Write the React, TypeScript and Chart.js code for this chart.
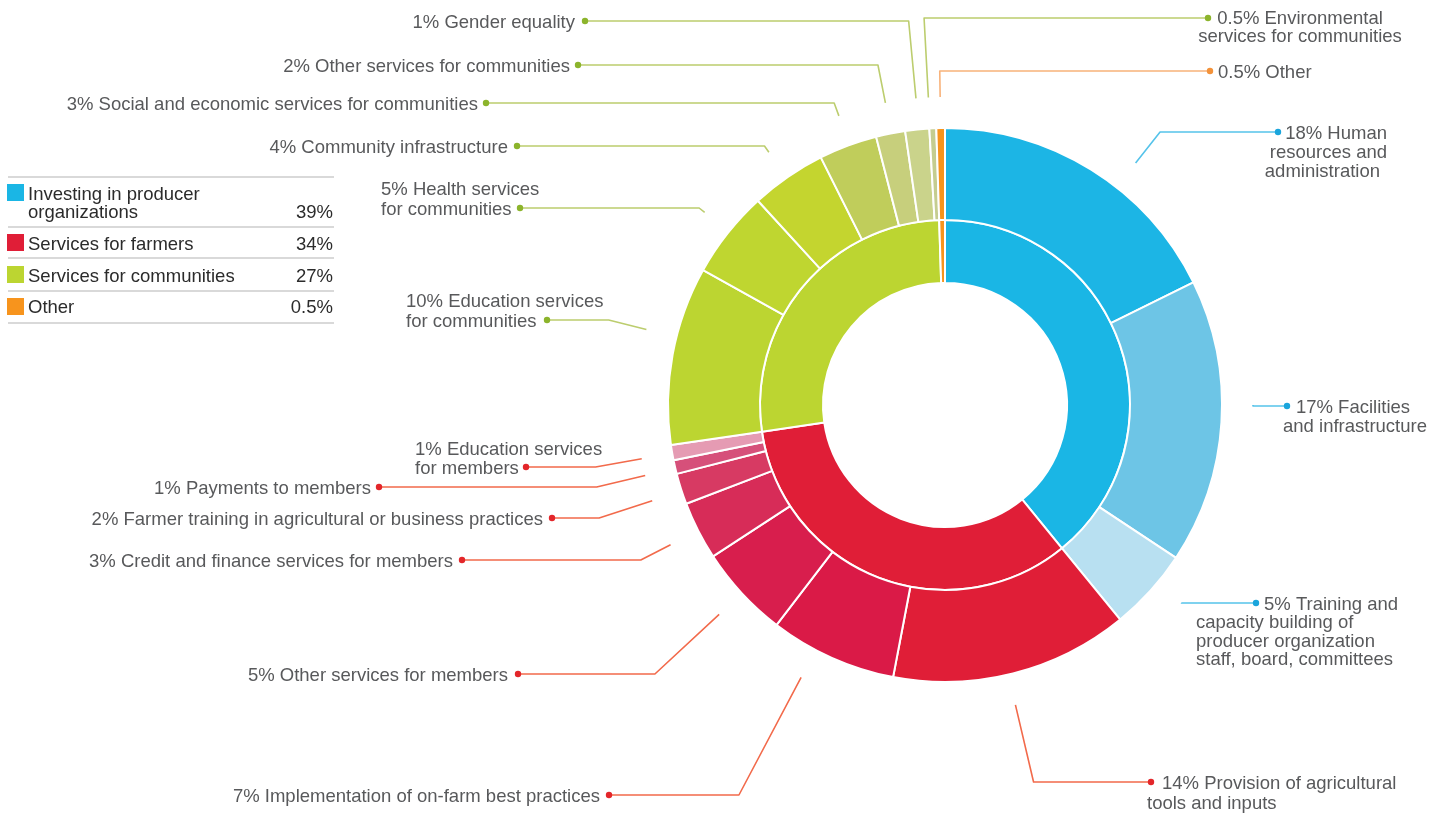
import React, { useEffect, useRef } from 'react';
import { Chart, registerables } from 'chart.js';

Chart.register(...registerables);

// ---- Inner ring: main categories ----
const categoryNames = [
  ['Investing in producer', 'organizations'],
  ['Services for farmers'],
  ['Services for communities'],
  ['Other'],
];
const categoryShares = [39.1, 33.6, 26.8, 0.5];
const categoryPercentText = ['39%', '34%', '27%', '0.5%'];
const categoryColors = ['#1ab6e5', '#e01e37', '#bcd531', '#f7941d'];

// ---- Outer ring: sub-categories (clockwise from 12 o'clock) ----
const itemLines = [
  ['18% Human', 'resources and', 'administration'],
  ['17% Facilities', 'and infrastructure'],
  ['5% Training and', 'capacity building of', 'producer organization', 'staff, board, committees'],
  ['14% Provision of agricultural', 'tools and inputs'],
  ['7% Implementation of on-farm best practices'],
  ['5% Other services for members'],
  ['3% Credit and finance services for members'],
  ['2% Farmer training in agricultural or business practices'],
  ['1% Payments to members'],
  ['1% Education services', 'for members'],
  ['10% Education services', 'for communities'],
  ['5% Health services', 'for communities'],
  ['4% Community infrastructure'],
  ['3% Social and economic services for communities'],
  ['2% Other services for communities'],
  ['1% Gender equality'],
  ['0.5% Environmental', 'services for communities'],
  ['0.5% Other'],
];
const itemShares = [
  17.7, 16.6, 4.8,
  13.9, 7.4, 5.4, 3.4, 1.8, 0.8, 0.9,
  10.4, 5.1, 4.4, 3.4, 1.7, 1.4, 0.4,
  0.5,
];
const itemGroup = [0, 0, 0, 1, 1, 1, 1, 1, 1, 1, 2, 2, 2, 2, 2, 2, 2, 3];
const itemColors = [
  '#1cb5e5', '#6dc5e6', '#b8e0f1',
  '#e01e37', '#da1a47', '#d81e4d', '#d72c58', '#d73a63', '#d6507a', '#e59bb3',
  '#bcd531', '#bfd630', '#c4d52f', '#c0cd5b', '#c7cf7c', '#cad38b', '#c5cd90',
  '#f7941d',
];

// ---- Styles / layout (not data) ----
const leaderColors = ['#55c3ea', '#f26a4b', '#bccd6e', '#f8b27a'];
const dotColors = ['#1aa5dc', '#e3262a', '#8cb42c', '#f3923a'];
const TEXT_COLOR = '#58595b';
const FONT = '18.5px "Liberation Sans", Arial, sans-serif';

type Anchor = [number, number, CanvasTextAlign];
const labelLayout: { frac: number; dot: [number, number]; anchors: Anchor[] }[] = [
  { frac: 0.6, dot: [1278, 132], anchors: [[1387, 132, 'right'], [1387, 151, 'right'], [1380, 170, 'right']] },
  { frac: 0.44, dot: [1287, 406], anchors: [[1353, 406, 'center'], [1355, 425, 'center']] },
  { frac: 0.375, dot: [1256, 603], anchors: [[1264, 603, 'left'], [1196, 621, 'left'], [1196, 640, 'left'], [1196, 658, 'left']] },
  { frac: 0.52, dot: [1151, 782], anchors: [[1162, 782, 'left'], [1147, 802, 'left']] },
  { frac: 0.64, dot: [609, 795], anchors: [[600, 795, 'right']] },
  { frac: 0.5, dot: [518, 674], anchors: [[508, 674, 'right']] },
  { frac: 0.5, dot: [462, 560], anchors: [[453, 560, 'right']] },
  { frac: 0.43, dot: [552, 518], anchors: [[543, 518, 'right']] },
  { frac: 0.4, dot: [379, 487], anchors: [[371, 487, 'right']] },
  { frac: 0.45, dot: [526, 467], anchors: [[415, 448, 'left'], [415, 467, 'left']] },
  { frac: 0.6, dot: [547, 320], anchors: [[406, 300, 'left'], [406, 320, 'left']] },
  { frac: 0.52, dot: [520, 208], anchors: [[381, 188, 'left'], [381, 208, 'left']] },
  { frac: 0.48, dot: [517, 146], anchors: [[508, 146, 'right']] },
  { frac: 0.53, dot: [486, 103], anchors: [[478, 103, 'right']] },
  { frac: 0.53, dot: [578, 65], anchors: [[570, 65, 'right']] },
  { frac: 0.57, dot: [585, 21], anchors: [[575, 21, 'right']] },
  { frac: 0.1, dot: [1208, 18], anchors: [[1300, 17, 'center'], [1300, 35, 'center']] },
  { frac: 0.5, dot: [1210, 71], anchors: [[1218, 71, 'left']] },
];

const legendLayout = {
  left: 8,
  right: 334,
  rules: [177, 227, 258, 291, 323],
  swatchTops: [184, 234, 266, 298],
  baselines: [[200, 218], [250], [282], [313]],
};

const overlayPlugin = {
  id: 'overlay',
  afterDraw(chart: any) {
    const ctx: CanvasRenderingContext2D = chart.ctx;
    const meta = chart.getDatasetMeta(0);
    ctx.save();
    ctx.font = FONT;
    ctx.textBaseline = 'alphabetic';

    itemLines.forEach((lines, i) => {
      const arc: any = meta.data[i];
      const lay = labelLayout[i];
      const g = itemGroup[i];
      const a = arc.startAngle + lay.frac * (arc.endAngle - arc.startAngle);
      const R = arc.outerRadius + 31;
      const sx = arc.x + R * Math.cos(a);
      const sy = arc.y + R * Math.sin(a);
      const [dx, dy] = lay.dot;
      let ex = sx;
      let ey = dy;
      const s = Math.sin(a);
      if (Math.abs(s) > 0.05) {
        const re = (dy - arc.y) / s;
        if (re > R) ex = arc.x + re * Math.cos(a);
      }
      ctx.strokeStyle = leaderColors[g];
      ctx.lineWidth = 1.6;
      ctx.lineJoin = 'round';
      ctx.beginPath();
      ctx.moveTo(sx, sy);
      ctx.lineTo(ex, ey);
      ctx.lineTo(dx, dy);
      ctx.stroke();
      ctx.fillStyle = dotColors[g];
      ctx.beginPath();
      ctx.arc(dx, dy, 3.2, 0, Math.PI * 2);
      ctx.fill();

      ctx.fillStyle = TEXT_COLOR;
      lines.forEach((t, k) => {
        const [x, y, align] = lay.anchors[k];
        ctx.textAlign = align;
        ctx.fillText(t, x, y + 6.5);
      });
    });

    // Legend table
    ctx.strokeStyle = '#cdcdcd';
    ctx.lineWidth = 1.5;
    legendLayout.rules.forEach((y) => {
      ctx.beginPath();
      ctx.moveTo(legendLayout.left, y);
      ctx.lineTo(legendLayout.right, y);
      ctx.stroke();
    });
    categoryNames.forEach((lines, i) => {
      ctx.fillStyle = categoryColors[i];
      ctx.fillRect(7, legendLayout.swatchTops[i], 17, 17);
      ctx.fillStyle = '#2b2b2b';
      ctx.textAlign = 'left';
      const bl = legendLayout.baselines[i];
      lines.forEach((t, k) => ctx.fillText(t, 28, bl[k]));
      ctx.textAlign = 'right';
      ctx.fillText(categoryPercentText[i], 333, bl[bl.length - 1]);
    });
    ctx.restore();
  },
};

export default function App() {
  const canvasRef = useRef<HTMLCanvasElement | null>(null);

  useEffect(() => {
    if (!canvasRef.current) return;
    const chart = new Chart(canvasRef.current, {
      type: 'doughnut',
      data: {
        labels: itemLines.map((l) => l.join(' ')),
        datasets: [
          {
            data: itemShares,
            backgroundColor: itemColors,
            borderColor: '#ffffff',
            borderWidth: 2,
            weight: 92,
          } as any,
          {
            data: categoryShares,
            backgroundColor: categoryColors,
            borderColor: '#ffffff',
            borderWidth: 2,
            weight: 63,
          } as any,
        ],
      },
      options: {
        responsive: false,
        animation: false,
        devicePixelRatio: 1,
        cutout: 122,
        events: [],
        layout: { padding: { left: 667, right: 225, top: 127, bottom: 131 } },
        plugins: {
          legend: { display: false },
          tooltip: { enabled: false },
        },
      },
      plugins: [overlayPlugin],
    });
    return () => chart.destroy();
  }, []);

  return (
    <div style={{ position: 'fixed', left: 0, top: 0, width: 1448, height: 814, background: '#ffffff' }}>
      <canvas ref={canvasRef} width={1448} height={814} style={{ width: 1448, height: 814, display: 'block' }} />
    </div>
  );
}
